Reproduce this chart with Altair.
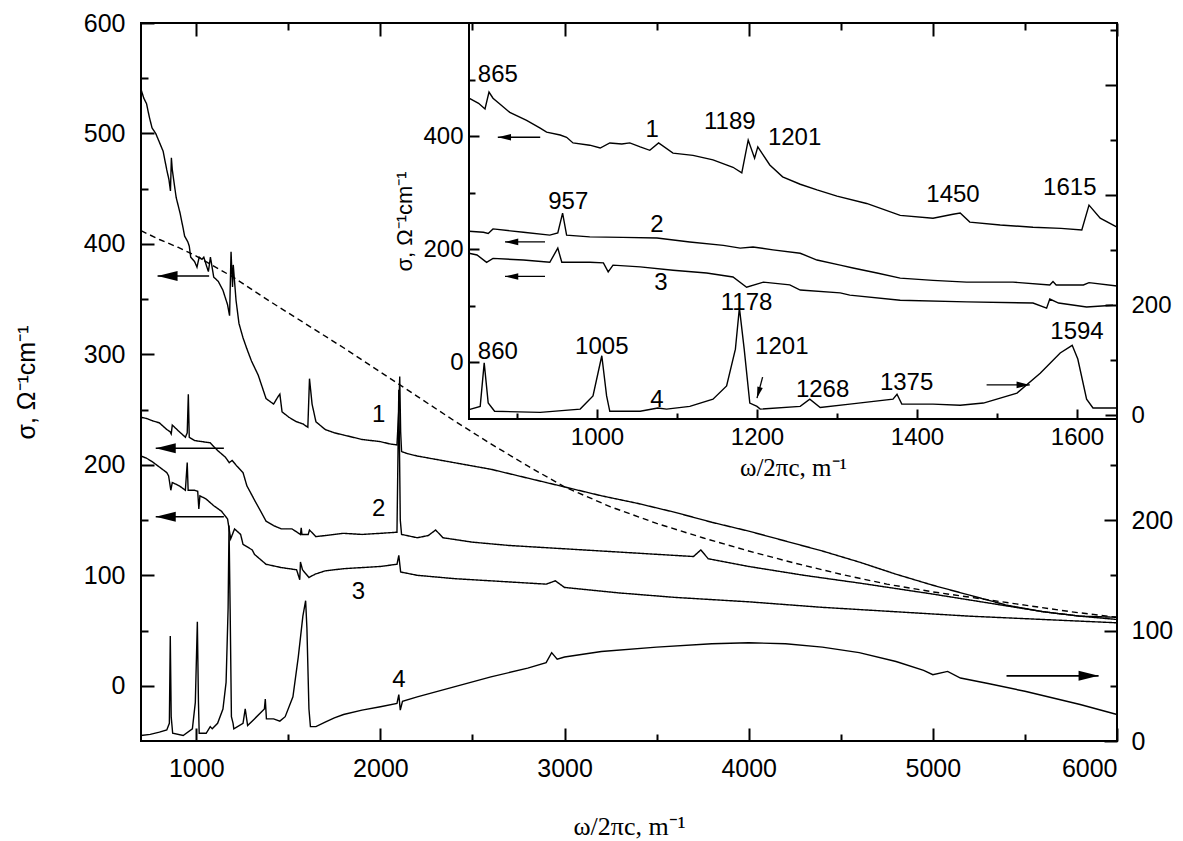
import altair as alt
import pandas as pd

# ---------------- data ----------------
c1_x = [700,715,730,745,760,780,800,820,840,852,860,865,870,880,891,912,929,937,954,962,970,991,1004,1016,1031,1041,1054,1066,1077,1095,1120,1145,1170,1181,1189,1197,1201,1216,1232,1254,1275,1300,1337,1379,1420,1445,1454,1466,1504,1545,1580,1606,1615,1629,1650,1700,1750,1800,1850,1900,1950,2000,2050,2090,2100,2105,2110,2115,2150,2200,2300,2400,2500,2600,2700,2800,2900,3000,3200,3400,3600,3800,4000,4200,4400,4600,4800,5000,5200,5400,5600,5800,6000]
c1_y = [540,532,527,515,505,500,492,484,467,458,448,478,467,455,442,428,414,407,402,398,388,384,379,388,386,388,381,375,388,370,366,358,345,335,393,361,381,349,328,315,305,294,281,260,255,262,264,248,243,239,237,234,278,255,239,232,229,227,225,223,222,221,219,218,250,280,230,212,210,208,205,202,199,196,192,188,184,180,172,165,157,148,140,131,122,112,101,91,82,73,67,63,62]

c2_x = [700,730,760,800,840,858,864,870,908,941,951,957,962,991,1032,1075,1116,1158,1179,1195,1220,1254,1275,1304,1320,1350,1379,1420,1462,1520,1566,1570,1574,1608,1615,1650,1700,1800,1900,2000,2090,2100,2108,2115,2200,2260,2300,2340,2500,2700,3000,3300,3600,3700,3740,3780,4000,4300,4600,5000,5300,5600,5800,6000]
c2_y = [243,242,240,238,232,230,228,236,230,225,229,264,225,222,221,220,213,207,202,204,199,193,181,172,167,158,149,145,142,142,137,143,137,137,141,135,136,138,137,138,139,268,150,137,134,136,141,134,130,127,124,121,118,117,123,115,108,100,93,83,75,67,63,60]

c3_x = [700,730,760,800,840,850,862,870,908,941,951,956,991,1008,1014,1020,1054,1095,1137,1170,1187,1208,1241,1254,1304,1316,1379,1462,1545,1562,1566,1577,1612,1645,1700,1800,1900,2000,2090,2100,2110,2200,2400,2600,2800,2900,2950,3000,3300,3600,4000,4400,4800,5200,5600,6000]
c3_y = [208,206,203,198,193,190,177,184,181,177,202,177,177,176,160,172,169,163,158,151,133,142,137,128,123,119,110,107,105,96,112,105,98,101,104,106,107,108,110,118,103,100,97,95,93,92,95,89,84,80,76,71,67,63,60,57]

# curve 4 is read on the right-hand axes
c4_x = [700,750,800,840,854,859,864,872,929,979,995,1006,1012,1016,1054,1076,1087,1116,1145,1162,1173,1178,1184,1191,1200,1204,1254,1266,1279,1316,1370,1375,1381,1420,1454,1483,1525,1554,1579,1594,1601,1612,1620,1650,1700,1750,1800,1900,2000,2090,2100,2108,2120,2200,2400,2600,2800,2900,2930,2960,3000,3200,3500,3800,4000,4200,4400,4600,4800,4950,5000,5080,5150,5300,5500,5800,6000]
c4_y = [5,6,8,10,16,95,22,7,5,11,35,108,35,7,7,13,11,16,29,53,120,195,120,22,16,11,16,29,14,20,29,38,20,20,18,22,40,76,113,127,102,29,13,13,17,21,24,28,31,34,42,28,36,40,49,58,66,71,80,74,76,81,85,88,89,88,85,80,72,64,60,63,57,52,45,33,24]

dash_x = [700,800,900,1000,1200,1400,1600,1800,2000,2200,2400,2600,2800,3000,3250,3500,3750,4000,4250,4500,4750,5000,5250,5500,5750,6000]
dash_y = [412,404,397,389,370,348,327,306,284,262,240,219,199,180,162,147,134,122,111,101,92,85,79,73,67,62]

# curve numbers in the main panel
main_lbl_text = ["1", "2", "3", "4"]
main_lbl_x = [1990, 1990, 1880, 2100]
main_lbl_y = [245, 160, 85, 5]

# arrows in the main panel (tail x, tip x, level)
main_arrow_tail = [1070, 1150, 1150]
main_arrow_tip = [790, 780, 780]
main_arrow_y = [371, 215, 153]
main_rarrow_tail = [5400]
main_rarrow_tip = [5900]
main_rarrow_y = [59]

# inset annotations
inset_lbl_text = ["865", "1", "1189", "1201", "1450", "1615", "957", "2", "3",
                  "1178", "860", "1005", "1201", "4", "1268", "1375", "1594"]
inset_lbl_x = [876, 1069, 1166, 1247, 1445, 1591, 964, 1075, 1080,
               1187, 876, 1006, 1231, 1075, 1282, 1387, 1600]
inset_lbl_y = [508, 411, 425, 396, 296, 308, 283, 243, 140,
               105, 18, 27, 27, -66, -49, -36, 54]

inset_arrow_tail = [929, 935, 935]
inset_arrow_tip = [876, 885, 885]
inset_arrow_y = [398, 213, 152]
inset_rarrow_tail = [1487]
inset_rarrow_tip = [1541]
inset_rarrow_y = [55]
inset_darrow_x = [1207]
inset_darrow_x2 = [1200]
inset_darrow_y = [-26]
inset_darrow_y2 = [-63]

main_x_domain = [700, 6000]
main_yl_domain = [-50, 600]
main_yr_domain = [0, 650]
inset_x_domain = [840, 1650]
inset_yl_domain = [-100, 600]
inset_yr_domain = [-7, 713]

# ---------------- layout ----------------
F = "Liberation Sans"
FS = "Liberation Serif"
W, H = 976, 718
IX0, IY1 = 328, 396      # inset left edge / bottom edge inside the plot area
LW = 1.4

def scale(domain, rng=None):
    if rng is None:
        return alt.Scale(domain=domain, nice=False, zero=False)
    return alt.Scale(domain=domain, range=rng, nice=False, zero=False)

SX = scale(main_x_domain)
SYL = scale(main_yl_domain)
SYR = scale(main_yr_domain)
SIX = scale(inset_x_domain, [IX0, W])
SIYL = scale(inset_yl_domain, [IY1, 0])
SIYR = scale(inset_yr_domain, [IY1, 0])

def axis(orient, values, size, shift=0, labels=False, fs=25, pad=10, **kw):
    kw.setdefault("title", None)
    return alt.Axis(orient=orient, values=values, tickSize=size, offset=shift - size,
                    domain=False, grid=False, labels=labels, tickColor="black",
                    tickWidth=2, labelFont=F, labelFontSize=fs, labelColor="black",
                    labelPadding=pad, zindex=1, titleColor="black", **kw)

def series(xs, ys, name):
    return pd.DataFrame({"x": xs, "y": ys, "s": name})

df_main = pd.concat([series(c1_x, c1_y, "1"), series(c2_x, c2_y, "2"),
                     series(c3_x, c3_y, "3"), series(dash_x, dash_y, "d")])
df_c4 = series(c4_x, c4_y, "4")
df_inset = pd.concat([series(c1_x, c1_y, "1"), series(c2_x, c2_y, "2"),
                      series(c3_x, c3_y, "3")])
df_inset = df_inset[(df_inset.x >= inset_x_domain[0]) & (df_inset.x <= inset_x_domain[1])]
df_c4i = df_c4[(df_c4.x >= inset_x_domain[0]) & (df_c4.x <= inset_x_domain[1])]

pathL = "M0,0L1,-0.25L1,0.25Z"
pathR = "M0,0L-1,-0.25L-1,0.25Z"
pathD = "M0,0L-0.25,-1L0.25,-1Z"

major_x = [1000, 2000, 3000, 4000, 5000, 6000]
minor_x = [1500, 2500, 3500, 4500, 5500]

# ---- main panel ----
m_lines = alt.Chart(df_main).mark_line(color="black", strokeWidth=LW).encode(
    x=alt.X("x:Q", scale=SX, axis=axis("bottom", major_x, 13, labels=True, pad=15, format="d",
                                       title="ω/2πc, m⁻¹", titleFont=FS,
                                       titleFontSize=26, titleFontWeight="normal", titlePadding=32)),
    y=alt.Y("y:Q", scale=SYL, axis=axis("left", [0, 100, 200, 300, 400, 500, 600], 13, labels=True,
                                        pad=16, format="d", title="σ,  Ω⁻¹cm⁻¹", titleFont=F,
                                        titleFontSize=25, titleFontWeight="normal", titlePadding=44)),
    detail="s:N",
    strokeDash=alt.StrokeDash("s:N", scale=alt.Scale(domain=["1", "2", "3", "d"],
                              range=[[1, 0], [1, 0], [1, 0], [6, 4]]), legend=None),
)

m_c4 = alt.Chart(df_c4).mark_line(color="black", strokeWidth=LW).encode(
    x=alt.X("x:Q", scale=SX, axis=axis("bottom", minor_x, 7)),
    y=alt.Y("y:Q", scale=SYR, axis=axis("right", [0, 100, 200], 13, labels=True, pad=14, format="d")),
)

df_marr = pd.DataFrame({"x": main_arrow_tail, "x2": main_arrow_tip, "y": main_arrow_y})
m_arr = alt.Chart(df_marr).mark_rule(color="black", strokeWidth=1.6).encode(
    x=alt.X("x:Q", scale=SX, axis=axis("top", major_x, 13)),
    x2="x2:Q",
    y=alt.Y("y:Q", scale=SYL, axis=axis("left", [50, 150, 250, 350, 450, 550], 7)),
)
m_head = alt.Chart(df_marr).mark_point(shape=pathL, size=1600, filled=True, color="black",
                                       opacity=1, strokeWidth=0).encode(
    x=alt.X("x2:Q", scale=SX, axis=axis("top", minor_x, 7)),
    y=alt.Y("y:Q", scale=SYL, axis=None),
)
df_mr = pd.DataFrame({"x": main_rarrow_tail, "x2": main_rarrow_tip, "y": main_rarrow_y})
m_rarr = alt.Chart(df_mr).mark_rule(color="black", strokeWidth=1.6).encode(
    x=alt.X("x:Q", scale=SX, axis=None), x2="x2:Q",
    y=alt.Y("y:Q", scale=SYR, axis=axis("right", [50, 150, 250], 7)),
)
m_rhead = alt.Chart(df_mr).mark_point(shape=pathR, size=1600, filled=True, color="black",
                                      opacity=1, strokeWidth=0).encode(
    x=alt.X("x2:Q", scale=SX, axis=None),
    y=alt.Y("y:Q", scale=SYR, axis=None),
)
df_mlbl = pd.DataFrame({"x": main_lbl_x, "y": main_lbl_y, "t": main_lbl_text})
m_txt = alt.Chart(df_mlbl).mark_text(font=F, fontSize=24, color="black").encode(
    x=alt.X("x:Q", scale=SX, axis=None),
    y=alt.Y("y:Q", scale=SYL, axis=None),
    text="t:N",
)

# ---- inset ----
df_box = pd.DataFrame({"x": [inset_x_domain[0]], "x2": [inset_x_domain[1]],
                       "y": [inset_yl_domain[0]], "y2": [inset_yl_domain[1]]})
i_box = alt.Chart(df_box).mark_rect(fill="white", stroke="black", strokeWidth=2).encode(
    x=alt.X("x:Q", scale=SIX, axis=None), x2="x2:Q",
    y=alt.Y("y:Q", scale=SIYL, axis=None), y2="y2:Q",
)
i_lines = alt.Chart(df_inset).mark_line(color="black", strokeWidth=LW).encode(
    x=alt.X("x:Q", scale=SIX, axis=axis("bottom", [1000, 1200, 1400, 1600], 10, shift=-(H - IY1),
                                        labels=True, fs=24, pad=6, format="d",
                                        title="ω/2πc, m⁻¹", titleFont=FS,
                                        titleFontSize=25, titleFontWeight="normal", titlePadding=6)),
    y=alt.Y("y:Q", scale=SIYL, axis=axis("left", [0, 200, 400], 10, shift=-IX0, labels=True, fs=24,
                                         pad=6, format="d", title="σ,  Ω⁻¹cm⁻¹", titleFont=F,
                                         titleFontSize=22, titleFontWeight="normal", titlePadding=6)),
    detail="s:N",
)
i_c4 = alt.Chart(df_c4i).mark_line(color="black", strokeWidth=LW).encode(
    x=alt.X("x:Q", scale=SIX, axis=axis("bottom", [900, 1100, 1300, 1500], 6, shift=-(H - IY1))),
    y=alt.Y("y:Q", scale=SIYR, axis=axis("right", [0, 200, 400, 600], 12, labels=True, fs=24, pad=14,
                                         labelExpr="datum.value <= 200 ? datum.label : ''")),
)
df_ilbl = pd.DataFrame({"x": inset_lbl_x, "y": inset_lbl_y, "t": inset_lbl_text})
i_txt = alt.Chart(df_ilbl).mark_text(font=F, fontSize=24, color="black").encode(
    x=alt.X("x:Q", scale=SIX, axis=None),
    y=alt.Y("y:Q", scale=SIYL, axis=axis("left", [100, 300, 500], 6, shift=-IX0)),
    text="t:N",
)
df_iarr = pd.DataFrame({"x": inset_arrow_tail, "x2": inset_arrow_tip, "y": inset_arrow_y})
i_arr = alt.Chart(df_iarr).mark_rule(color="black", strokeWidth=1.3).encode(
    x=alt.X("x:Q", scale=SIX, axis=None), x2="x2:Q",
    y=alt.Y("y:Q", scale=SIYL, axis=None),
)
i_head = alt.Chart(df_iarr).mark_point(shape=pathL, size=700, filled=True, color="black",
                                       opacity=1, strokeWidth=0).encode(
    x=alt.X("x2:Q", scale=SIX, axis=None),
    y=alt.Y("y:Q", scale=SIYL, axis=None),
)
df_ir = pd.DataFrame({"x": inset_rarrow_tail, "x2": inset_rarrow_tip, "y": inset_rarrow_y})
i_rarr = alt.Chart(df_ir).mark_rule(color="black", strokeWidth=1.3).encode(
    x=alt.X("x:Q", scale=SIX, axis=None), x2="x2:Q",
    y=alt.Y("y:Q", scale=SIYR, axis=axis("right", [100, 300, 500, 700], 7)),
)
i_rhead = alt.Chart(df_ir).mark_point(shape=pathR, size=700, filled=True, color="black",
                                      opacity=1, strokeWidth=0).encode(
    x=alt.X("x2:Q", scale=SIX, axis=None),
    y=alt.Y("y:Q", scale=SIYR, axis=None),
)
df_id = pd.DataFrame({"x": inset_darrow_x, "x2": inset_darrow_x2,
                      "y": inset_darrow_y, "y2": inset_darrow_y2})
i_darr = alt.Chart(df_id).mark_rule(color="black", strokeWidth=1.3).encode(
    x=alt.X("x:Q", scale=SIX, axis=None), x2="x2:Q",
    y=alt.Y("y:Q", scale=SIYL, axis=None), y2="y2:Q",
)
i_dhead = alt.Chart(df_id).mark_point(shape=pathD, size=500, filled=True, color="black",
                                      opacity=1, strokeWidth=0, angle=16).encode(
    x=alt.X("x2:Q", scale=SIX, axis=None),
    y=alt.Y("y2:Q", scale=SIYL, axis=None),
)

chart = alt.layer(
    m_lines, m_c4, m_arr, m_head, m_rarr, m_rhead, m_txt,
    i_box, i_lines, i_c4, i_txt, i_arr, i_head, i_rarr, i_rhead, i_darr, i_dhead,
).resolve_scale(
    x="independent", y="independent"
).properties(
    width=W, height=H,
    autosize=alt.AutoSizeParams(type="none"),
    padding={"left": 133, "top": 15, "right": 58, "bottom": 100},
).configure_view(
    stroke="black", strokeWidth=2
)

chart.save("out.html", embed_options={"renderer": "svg", "actions": False})
